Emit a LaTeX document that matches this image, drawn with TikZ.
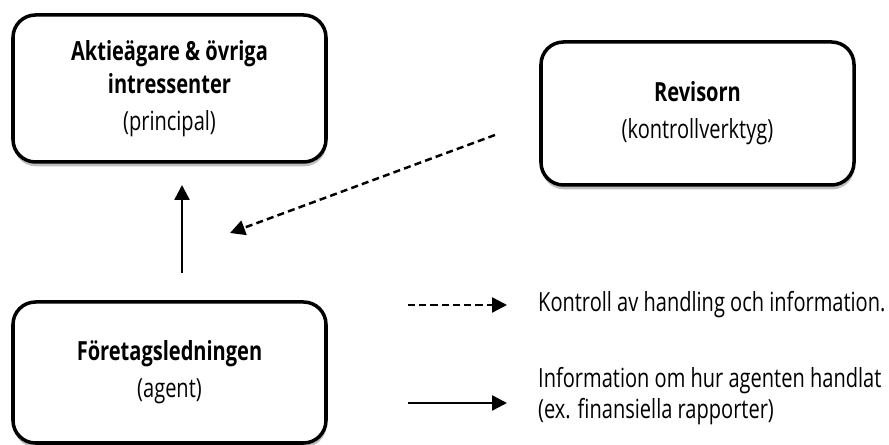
\documentclass[tikz,border=0pt]{standalone}
\usepackage{fontspec}
\setmainfont{Open Sans}[FakeStretch=0.76]
\usetikzlibrary{arrows.meta, shadows}

\tikzset{
  party/.style={draw, line width=2pt, rounded corners=0.45cm, fill=white,
    minimum width=6.26cm, align=center, font=\fontsize{15}{19}\selectfont,
    drop shadow={shadow xshift=0.3pt, shadow yshift=-2.5pt, opacity=0.25, fill=black}},
  flow/.style={line width=1.4pt, -{Triangle[length=0.3cm, width=0.3cm]}},
  check/.style={flow, dash pattern=on 4pt off 2.4pt},
  legendtext/.style={anchor=west, align=left, font=\fontsize{15}{18}\selectfont}
}

\begin{document}
\begin{tikzpicture}
    \useasboundingbox (0,0) rectangle (17.78,8.9);

    \node[party, minimum height=2.94cm] (principal) at (3.39, 7.13)
        {\textbf{Aktieägare \& övriga}\\ \textbf{intressenter}\\[2pt] (principal)};
    \node[party, minimum height=2.86cm] (revisor) at (13.95, 6.63)
        {\textbf{Revisorn}\\[2pt] (kontrollverktyg)};
    \node[party, minimum height=2.82cm] (agent) at (3.39, 1.45)
        {\textbf{Företagsledningen}\\[2pt] (agent)};

    \coordinate (up start) at (3.64, 3.44);
    \coordinate (up end) at (3.64, 5.2);
    \coordinate (check start) at (9.9, 6.2);
    \coordinate (check end) at (4.6, 4.24);
    \draw[flow] (up start) -- (up end);
    \draw[check] (check start) -- (check end);

    % legend
    \coordinate (key check) at (8.16, 2.8);
    \coordinate (key flow) at (8.16, 0.84);
    \node[legendtext] (check text) at (10.64, 2.8) {Kontroll av handling och information.};
    \node[legendtext] (flow text) at (10.64, 0.98)
        {Information om hur agenten handlat\\ (ex. finansiella rapporter)};
    \draw[check] (key check) -- +(1.98, 0);
    \draw[flow] (key flow) -- +(1.98, 0);
\end{tikzpicture}
\end{document}
